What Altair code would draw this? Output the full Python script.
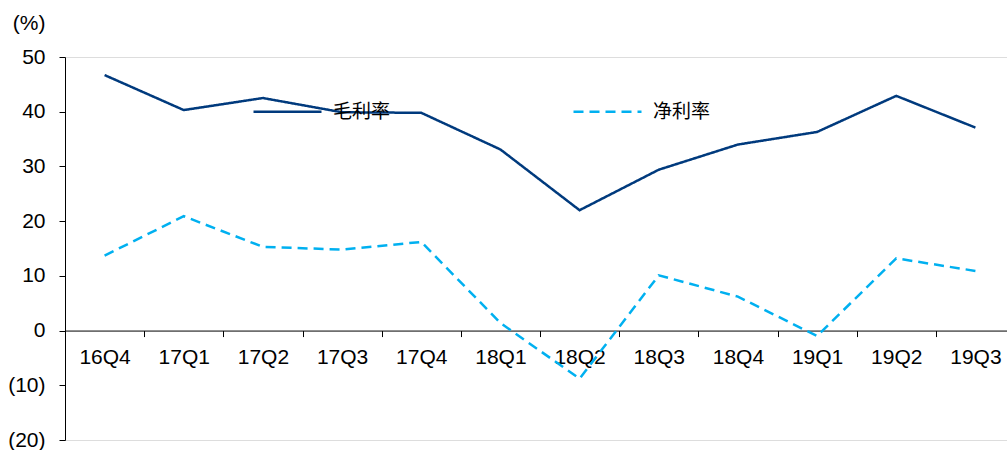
import altair as alt
import pandas as pd

quarters = ["16Q4", "17Q1", "17Q2", "17Q3", "17Q4", "18Q1", "18Q2", "18Q3", "18Q4", "19Q1", "19Q2", "19Q3"]
gross_margin = [46.7, 40.3, 42.5, 39.9, 39.8, 33.1, 22.0, 29.4, 34.0, 36.3, 42.9, 37.1]
net_margin = [13.7, 20.9, 15.3, 14.8, 16.2, 1.4, -8.8, 10.1, 6.2, -1.0, 13.2, 10.9]
series_names = ["毛利率", "净利率"]
series_colors = ["#003A7D", "#00B0F0"]

rows = []
for q, g, n in zip(quarters, gross_margin, net_margin):
    rows.append({"quarter": q, "series": series_names[0], "value": g})
    rows.append({"quarter": q, "series": series_names[1], "value": n})
df = pd.DataFrame(rows)

W, H = 950, 383
ymin, ymax = -20, 50
zero_offset = -(H * (0 - ymin) / (ymax - ymin))
FS = 21

legend_cfg = dict(title=None, orient="none", legendX=187, legendY=19,
                  direction="horizontal", symbolType="stroke",
                  symbolSize=4624, symbolStrokeWidth=2.5,
                  labelFontSize=19, labelFont="Noto Sans CJK SC",
                  labelColor="black", labelOffset=10,
                  columnPadding=177, padding=0)

chart = alt.Chart(df).mark_line(strokeWidth=2.5).encode(
    x=alt.X("quarter:N", sort=quarters, scale=alt.Scale(paddingInner=0, paddingOuter=0),
            axis=alt.Axis(title=None, labelAngle=0, tickBand="extent", offset=zero_offset,
                          domainColor="black", tickColor="black", tickSize=6,
                          labelPadding=10, labelFontSize=FS, labelColor="black",
                          labelFont="Liberation Sans", grid=False)),
    y=alt.Y("value:Q", scale=alt.Scale(domain=[ymin, ymax], nice=False, zero=False),
            axis=alt.Axis(values=[-20, -10, 0, 10, 20, 30, 40, 50], grid=False,
                          labelExpr="datum.value < 0 ? '(' + (-datum.value) + ')' : datum.label + '\u00a0'",
                          domainColor="black", tickColor="black", tickSize=6,
                          labelPadding=14, labelFontSize=FS, labelColor="black",
                          labelFont="Liberation Sans",
                          title="(%)", titleAngle=0, titleAlign="right", titleBaseline="middle",
                          titleX=-20, titleY=-34, titleFontSize=FS, titleFontWeight="normal",
                          titleFont="Liberation Sans", titleColor="black")),
    color=alt.Color("series:N", sort=series_names,
                    scale=alt.Scale(domain=series_names, range=series_colors),
                    legend=alt.Legend(**legend_cfg)),
    strokeDash=alt.StrokeDash("series:N", sort=series_names,
                              scale=alt.Scale(domain=series_names, range=[[1, 0], [10, 6]]),
                              legend=alt.Legend(**legend_cfg)),
).properties(
    width=W, height=H,
    autosize=alt.AutoSizeParams(type="none"),
    padding={"left": 65, "top": 57, "right": -8, "bottom": 10},
).configure_view(stroke=None).configure(background="white")

chart.save("out.html", embed_options={"renderer": "svg", "actions": False})
